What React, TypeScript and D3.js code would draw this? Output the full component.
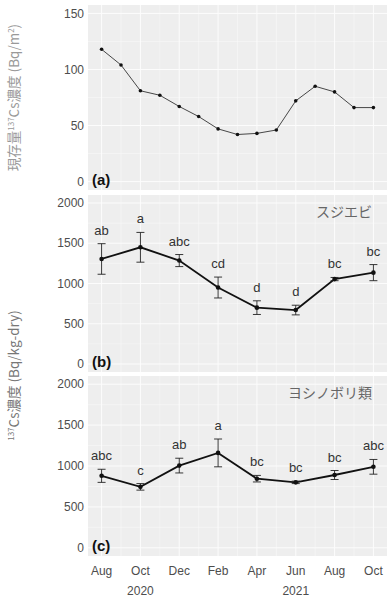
import React from "react";
import * as d3 from "d3";

// monthly standing stock (Aug 2020 .. Oct 2021)
const stockValues = [118, 104, 81, 77, 67, 58, 47, 42, 43, 46, 72, 85, 80, 66, 66];

// bimonthly sampling
const sampleMonth = [0, 2, 4, 6, 8, 10, 12, 14];
const monthLabels = ["Aug", "Oct", "Dec", "Feb", "Apr", "Jun", "Aug", "Oct"];
const yearLabels = ["2020", "2021"];
const yearMonth = [2, 10];

const shrimpMean = [1305, 1450, 1285, 950, 700, 670, 1055, 1135];
const shrimpSe = [190, 185, 75, 130, 85, 60, 20, 100];
const shrimpLetters = ["ab", "a", "abc", "cd", "d", "d", "bc", "bc"];

const gobyMean = [880, 745, 1005, 1160, 845, 800, 890, 990];
const gobySe = [80, 40, 90, 170, 40, 15, 55, 90];
const gobyLetters = ["abc", "c", "ab", "a", "bc", "bc", "bc", "abc"];

const ticksA = [0, 50, 100, 150];
const ticksBC = [0, 500, 1000, 1500, 2000];

const W = 387;
const H = 605;
const left = 88;
const right = 387;
const font = "'Liberation Sans', Arial, sans-serif";
const jpFont = "'Noto Sans CJK JP', 'Liberation Sans', sans-serif";
const bg = "#eeeeee";
const tickCol = "#4d4d4d";

const x = d3.scaleLinear().domain([-0.7, 14.7]).range([left, right]);

function Panel({ top, bottom, domain, ticks, tag }) {
  const y = d3.scaleLinear().domain(domain).range([bottom, top]);
  const step = ticks[1] - ticks[0];
  const minor = ticks.slice(0, -1).map((t) => t + step / 2);
  const xMinor = d3.range(1, 14, 2);
  return (
    <g>
      <rect x={left} y={top} width={right - left} height={bottom - top} fill={bg} />
      {minor.map((t) => (
        <line key={"ym" + t} x1={left} x2={right} y1={y(t)} y2={y(t)} stroke="#fafafa" strokeWidth={0.5} />
      ))}
      {xMinor.map((m) => (
        <line key={"xm" + m} x1={x(m)} x2={x(m)} y1={top} y2={bottom} stroke="#fafafa" strokeWidth={0.5} />
      ))}
      {ticks.map((t) => (
        <line key={"y" + t} x1={left} x2={right} y1={y(t)} y2={y(t)} stroke="#fcfcfc" strokeWidth={1} />
      ))}
      {sampleMonth.map((m) => (
        <line key={"x" + m} x1={x(m)} x2={x(m)} y1={top} y2={bottom} stroke="#fcfcfc" strokeWidth={1} />
      ))}
      {ticks.map((t) => (
        <text key={"t" + t} x={left - 4} y={y(t)} dy="0.35em" textAnchor="end" fontSize={12} fill={tickCol} fontFamily={font}>
          {t}
        </text>
      ))}
      <text x={left + 4} y={bottom - 5} fontSize={15} fontWeight="bold" fill="#111" fontFamily={font}>
        {tag}
      </text>
    </g>
  );
}

function ErrorSeries({ top, bottom, mean, se, letters, label }) {
  const y = d3.scaleLinear().domain([-100, 2100]).range([bottom, top]);
  const pts = mean.map((v, i) => [x(sampleMonth[i]), y(v)]);
  const line = d3.line()(pts);
  return (
    <g>
      <path d={line} fill="none" stroke="#111" strokeWidth={1.8} />
      {mean.map((v, i) => {
        const cx = x(sampleMonth[i]);
        return (
          <g key={i}>
            <line x1={cx} x2={cx} y1={y(v + se[i])} y2={y(v - se[i])} stroke="#222" strokeWidth={0.9} />
            <line x1={cx - 4} x2={cx + 4} y1={y(v + se[i])} y2={y(v + se[i])} stroke="#222" strokeWidth={0.9} />
            <line x1={cx - 4} x2={cx + 4} y1={y(v - se[i])} y2={y(v - se[i])} stroke="#222" strokeWidth={0.9} />
            <circle cx={cx} cy={y(v)} r={2.3} fill="#111" />
            <text x={cx} y={y(v + se[i]) - 9} textAnchor="middle" fontSize={13} fill="#333" fontFamily={font}>
              {letters[i]}
            </text>
          </g>
        );
      })}
      <text x={372} y={top + 22} textAnchor="end" fontSize={14} fill="#666" fontFamily={jpFont}>
        {label}
      </text>
    </g>
  );
}

export default function App() {
  const aTop = 5, aBot = 190;
  const bTop = 195, bBot = 372;
  const cTop = 376, cBot = 556;
  const yA = d3.scaleLinear().domain([-7.5, 157.5]).range([aBot, aTop]);
  const stockLine = d3.line()(stockValues.map((v, i) => [x(i), yA(v)]));
  return (
    <svg width={W} height={H} style={{ position: "absolute", left: 0, top: 0, background: "#fff" }}>
      <Panel top={aTop} bottom={aBot} domain={[-7.5, 157.5]} ticks={ticksA} tag="(a)" />
      <Panel top={bTop} bottom={bBot} domain={[-100, 2100]} ticks={ticksBC} tag="(b)" />
      <Panel top={cTop} bottom={cBot} domain={[-100, 2100]} ticks={ticksBC} tag="(c)" />

      <path d={stockLine} fill="none" stroke="#333" strokeWidth={0.9} />
      {stockValues.map((v, i) => (
        <circle key={i} cx={x(i)} cy={yA(v)} r={1.8} fill="#111" />
      ))}

      <ErrorSeries top={bTop} bottom={bBot} mean={shrimpMean} se={shrimpSe} letters={shrimpLetters} label="スジエビ" />
      <ErrorSeries top={cTop} bottom={cBot} mean={gobyMean} se={gobySe} letters={gobyLetters} label="ヨシノボリ類" />

      {sampleMonth.map((m, i) => (
        <text key={"xl" + i} x={x(m)} y={575} textAnchor="middle" fontSize={12} fill={tickCol} fontFamily={font}>
          {monthLabels[i]}
        </text>
      ))}
      {yearLabels.map((t, i) => (
        <text key={t} x={x(yearMonth[i])} y={595} textAnchor="middle" fontSize={12} fill={tickCol} fontFamily={font}>
          {t}
        </text>
      ))}

      <text
        transform={`translate(19, ${(aTop + aBot) / 2}) rotate(-90)`}
        textAnchor="middle"
        fontSize={13.5}
        fill="#999"
        fontFamily={jpFont}
      >
        現存量<tspan fontSize={8} dy={-5}>137</tspan>
        <tspan dy={5}>Cs濃度 (Bq/m</tspan>
        <tspan fontSize={8} dy={-5}>2</tspan>
        <tspan dy={5}>)</tspan>
      </text>
      <text
        transform={`translate(19, ${(bTop + cBot) / 2}) rotate(-90)`}
        textAnchor="middle"
        fontSize={13.5}
        fill="#777"
        fontFamily={jpFont}
      >
        <tspan fontSize={8} dy={-5}>137</tspan>
        <tspan dy={5}>Cs濃度 (Bq/kg-dry)</tspan>
      </text>
    </svg>
  );
}
